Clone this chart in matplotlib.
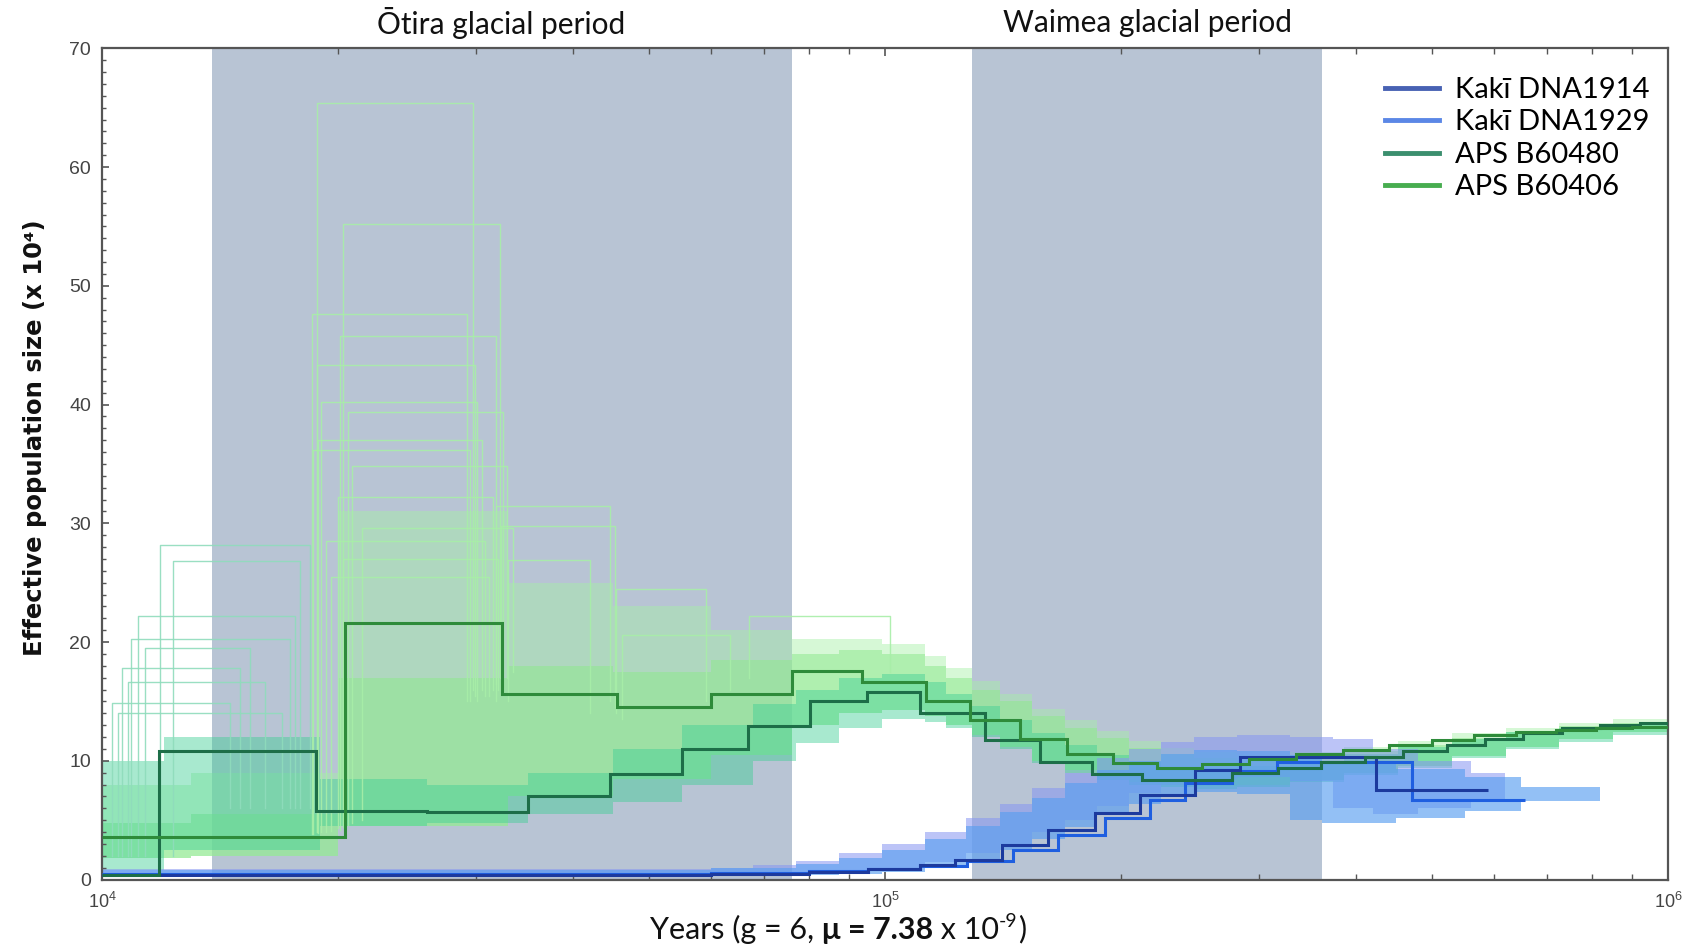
import math
import matplotlib
matplotlib.use("Agg")
import matplotlib.pyplot as plt
from matplotlib.lines import Line2D
from matplotlib.ticker import FixedLocator, LogLocator, NullFormatter, FuncFormatter
import matplotlib.transforms as mtransforms

# ---------------- data (years, Ne x 10^4) ----------------
# PSMC step curves: edges in years, values in units of 10^4
years_B60406 = [1e4, 20460, 32400, 45430, 59960, 76000, 93400, 112800, 128400, 148700,
                170600, 195700, 222300, 253800, 292000, 335000, 385000, 440000, 500000,
                565000, 640000, 720000, 810000, 900000, 1e6]
ne_B60406 = [3.6, 21.6, 15.6, 14.5, 15.6, 17.6, 16.6, 15.0, 13.4, 11.8,
             10.6, 9.8, 9.4, 9.75, 10.15, 10.55, 10.95, 11.35, 11.75,
             12.15, 12.45, 12.6, 12.75, 12.85]

years_B60480 = [1e4, 11825, 18760, 26000, 35040, 44550, 55100, 66900, 80100, 94750,
                110800, 134200, 157800, 183700, 212700, 277300, 318000, 361000, 410300,
                459200, 521700, 583800, 653600, 731500, 818800, 921100, 1e6]
ne_B60480 = [0.4, 10.86, 5.8, 5.65, 7.04, 8.87, 10.97, 12.96, 15.04, 15.8,
             14.06, 11.76, 9.93, 8.89, 8.39, 8.95, 9.37, 9.93, 10.35,
             10.86, 11.34, 11.84, 12.32, 12.74, 13.02, 13.16]

years_DNA1929 = [1e4, 60000, 80000, 95000, 110800, 127200, 145800, 166500, 191000,
                 217900, 241600, 277300, 316400, 470800, 656900]
ne_DNA1929 = [0.45, 0.55, 0.7, 0.9, 1.15, 1.6, 2.49, 3.76, 5.16, 6.70, 8.11, 9.1, 9.93, 6.70]

years_DNA1914 = [1e4, 60000, 80000, 95000, 110800, 122900, 140900, 161700, 185500,
                 211700, 248800, 284100, 423600, 589700]
ne_DNA1914 = [0.4, 0.5, 0.65, 0.85, 1.2, 1.65, 2.9, 4.2, 5.6, 7.1, 9.23, 10.35, 7.55]

# Bootstrap spread (step envelopes: lower edge, dense core top, outer top)
boot_edges_B60406 = [1e4, 13000, 20000, 33000, 45000, 60000, 76000, 87300, 99100, 112500,
                     119800, 129200, 140200, 154300, 169600, 186500, 205000, 225500, 247900,
                     281300, 329400, 386000, 452200, 529700, 620500, 726900, 851500, 1e6]
boot_lo_B60406 = [1.8, 2.0, 4.5, 7.0, 8.5, 10.5, 13.0, 14.0, 14.3, 13.8,
                  13.0, 12.2, 11.2, 10.0, 9.2, 8.6, 8.2, 8.0, 7.9, 8.0,
                  8.4, 9.0, 9.6, 10.4, 11.2, 11.8, 12.4]
boot_core_B60406 = [4.8, 5.5, 17.0, 18.0, 17.5, 18.5, 19.0, 19.3, 19.0, 18.0,
                    17.0, 16.0, 15.0, 13.8, 12.8, 11.9, 11.1, 10.6, 10.2, 10.1,
                    10.3, 10.8, 11.3, 11.9, 12.4, 12.9, 13.2]
boot_hi_B60406 = [8.0, 9.0, 31.0, 25.0, 23.0, 21.0, 20.3, 20.3, 19.8, 18.8,
                  17.8, 16.7, 15.6, 14.4, 13.4, 12.5, 11.7, 11.1, 10.7, 10.5,
                  10.7, 11.2, 11.7, 12.3, 12.8, 13.2, 13.5]

boot_edges_B60480 = [1e4, 12000, 19000, 26000, 35000, 45000, 55000, 67800, 76900, 87300,
                     99100, 112500, 119800, 129200, 140200, 154300, 169600, 186500, 205000,
                     225500, 247900, 281300, 329400, 386000, 452200, 529700, 620500, 726900,
                     851500, 1e6]
boot_lo_B60480 = [0.8, 2.5, 4.5, 4.8, 5.5, 6.5, 8.0, 10.0, 11.5, 12.8,
                  13.5, 13.3, 12.8, 12.0, 11.0, 9.8, 9.0, 8.4, 8.0, 7.8,
                  7.6, 7.8, 8.2, 8.8, 9.4, 10.2, 11.0, 11.6, 12.2]
boot_hi_B60480 = [10.0, 12.0, 8.5, 8.0, 9.0, 11.0, 13.0, 14.8, 16.0, 17.0,
                  17.3, 16.6, 15.6, 14.6, 13.4, 12.3, 11.3, 10.5, 9.9, 9.5,
                  9.4, 9.6, 10.0, 10.6, 11.2, 11.8, 12.4, 12.8, 13.1]

boot_edges_DNA1914 = [1e4, 60000, 67800, 76900, 87300, 99100, 112500, 127000, 140200, 154300,
                      169600, 186500, 205000, 225500, 247900, 281300, 329400, 373000, 420000,
                      480000, 560000, 620000]
boot_lo_DNA1914 = [0.25, 0.3, 0.4, 0.5, 0.7, 1.0, 1.5, 2.2, 3.0, 4.0,
                   5.0, 6.2, 7.3, 8.0, 8.5, 8.6, 8.3, 6.0, 5.5, 6.0, 6.5]
boot_hi_DNA1914 = [0.9, 1.0, 1.2, 1.6, 2.2, 3.0, 4.0, 5.2, 6.4, 7.7,
                   9.0, 10.2, 11.0, 11.6, 12.0, 12.2, 12.0, 11.8, 11.0, 10.0, 9.0]

boot_edges_DNA1929 = [1e4, 60000, 76900, 87300, 99100, 112500, 127000, 140200, 154300, 169600,
                      186500, 205000, 225500, 247900, 281300, 329400, 362000, 450000, 550000,
                      650000, 820000]
boot_lo_DNA1929 = [0.2, 0.3, 0.35, 0.45, 0.6, 1.0, 1.6, 2.5, 3.4, 4.4,
                   5.5, 6.4, 7.0, 7.4, 7.2, 5.0, 4.8, 5.2, 5.8, 6.6]
boot_hi_DNA1929 = [0.8, 1.0, 1.3, 1.8, 2.5, 3.4, 4.5, 5.7, 6.9, 8.1,
                   9.2, 10.0, 10.6, 10.9, 10.8, 10.5, 10.0, 9.3, 8.6, 7.8]

# Individual bootstrap replicates that leave the main spread
spike_start_B60406 = [18840, 20340, 18530, 20140, 18840, 19050, 20640, 18890, 18620, 20840,
                      20000, 21500, 19300, 20300, 19600, 31860, 32300, 33000, 45400, 46100, 67000]
spike_end_B60406 = [29800, 32240, 29280, 31860, 29950, 30100, 32550, 30540, 29510, 32880,
                    31600, 33500, 30800, 32000, 31200, 44550, 45180, 42000, 59000, 63400, 101500]
spike_height_B60406 = [65.4, 55.2, 47.6, 45.8, 43.3, 40.2, 39.4, 37.0, 36.2, 34.8,
                       32.2, 29.6, 28.5, 27.0, 25.5, 31.5, 29.8, 26.9, 24.5, 20.6, 22.2]
spike_base_left_B60406 = [4.0, 4.5, 3.8, 4.2, 4.0, 4.0, 4.6, 3.9, 3.8, 4.8,
                          4.3, 5.0, 4.0, 4.4, 4.1, 15.0, 16.0, 15.0, 14.0, 13.5, 17.0]
spike_base_right_B60406 = [16.0, 17.0, 15.0, 16.5, 15.5, 15.0, 17.5, 16.0, 15.0, 17.0,
                           16.0, 17.5, 15.5, 16.0, 15.5, 15.0, 14.5, 14.0, 15.0, 16.0, 17.5]

spike_start_B60480 = [11860, 12320, 11120, 10890, 11350, 10600, 10800, 10300, 10480]
spike_end_B60480 = [18440, 17900, 17640, 17380, 15450, 15010, 16150, 14570, 17000]
spike_height_B60480 = [28.2, 26.8, 22.2, 20.3, 19.5, 17.8, 16.6, 14.9, 14.0]

otira_period = (13800, 76000)
waimea_period = (129000, 362000)

series_names = ["Kakī DNA1914", "Kakī DNA1929", "APS B60480", "APS B60406"]
legend_colors = ["#4862b3", "#5b87e6", "#3b8f6e", "#47ad4f"]

# ---------------- styling ----------------
LATO = ["Lato", "DejaVu Sans"]
NARROW = ["Liberation Sans Narrow", "Liberation Sans", "DejaVu Sans"]

fig = plt.figure(figsize=(16.86, 9.48), dpi=100)
ax = fig.add_axes([0.0605, 0.0722, 0.9288, 0.8768])
ax.set_xscale("log")
ax.set_xlim(1e4, 1e6)
ax.set_ylim(0, 70)

band_color = "#b8c4d4"
for lo, hi in (otira_period, waimea_period):
    ax.axvspan(lo, hi, color=band_color, lw=0, zorder=0)

# bootstrap envelopes
ax.stairs(boot_hi_B60406, boot_edges_B60406, baseline=boot_lo_B60406, fill=True,
          color="#a6f0a6", alpha=0.45, lw=0, zorder=1.0)
ax.stairs(boot_core_B60406, boot_edges_B60406, baseline=boot_lo_B60406, fill=True,
          color="#8fe88f", alpha=0.55, lw=0, zorder=1.1)
ax.stairs(boot_hi_B60480, boot_edges_B60480, baseline=boot_lo_B60480, fill=True,
          color="#3fcf95", alpha=0.45, lw=0, zorder=1.2)
ax.stairs(boot_hi_DNA1914, boot_edges_DNA1914, baseline=boot_lo_DNA1914, fill=True,
          color="#8595f2", alpha=0.55, lw=0, zorder=1.3)
ax.stairs(boot_hi_DNA1929, boot_edges_DNA1929, baseline=boot_lo_DNA1929, fill=True,
          color="#5a9ff0", alpha=0.65, lw=0, zorder=1.4)

# outlying bootstrap replicates
for x0, x1, h, bl, br in zip(spike_start_B60406, spike_end_B60406, spike_height_B60406,
                             spike_base_left_B60406, spike_base_right_B60406):
    ax.plot([x0, x0, x1, x1], [bl, h, h, br], color="#a8eea8", lw=1.0, alpha=0.9, zorder=1.5)
for x0, x1, h in zip(spike_start_B60480, spike_end_B60480, spike_height_B60480):
    ax.plot([x0, x0, x1, x1], [2.0, h, h, 6.0], color="#8fdcbc", lw=1.0, alpha=0.9, zorder=1.5)

# main PSMC curves
ax.stairs(ne_DNA1929, years_DNA1929, baseline=None, color="#1f5fe0", lw=2.2, zorder=3)
ax.stairs(ne_DNA1914, years_DNA1914, baseline=None, color="#1c3a9e", lw=2.2, zorder=3.1)
ax.stairs(ne_B60480, years_B60480, baseline=None, color="#1d6e48", lw=2.2, zorder=3.2)
ax.stairs(ne_B60406, years_B60406, baseline=None, color="#2e8b3a", lw=2.2, zorder=3.3)

# axes
for s in ax.spines.values():
    s.set_color("#555555")
    s.set_linewidth(1.6)
ax.yaxis.set_major_locator(FixedLocator(range(0, 71, 10)))
ax.yaxis.set_minor_locator(FixedLocator(range(0, 71, 1)))
ax.xaxis.set_major_locator(LogLocator(base=10, numticks=5))
ax.xaxis.set_minor_locator(LogLocator(base=10, subs=range(2, 10), numticks=20))
ax.xaxis.set_minor_formatter(NullFormatter())
ax.xaxis.set_major_formatter(FuncFormatter(lambda v, p: r"$\mathregular{10^{%d}}$" % round(math.log10(v))))
ax.tick_params(axis="y", which="major", direction="in", length=5, width=1.2, color="#555555",
               labelsize=14, labelcolor="#444444", pad=8, right=False)
ax.tick_params(axis="y", which="minor", direction="in", length=3, width=1.0, color="#555555", right=False)
ax.tick_params(axis="x", which="both", direction="in", top=True, bottom=True, color="#555555",
               labelsize=13, labelcolor="#444444", pad=9)
ax.tick_params(axis="x", which="major", length=6, width=1.2)
ax.tick_params(axis="x", which="minor", length=4, width=1.0)
for lab in ax.get_yticklabels() + ax.get_xticklabels():
    lab.set_family(NARROW)

# period labels
trans = mtransforms.blended_transform_factory(ax.transData, ax.transAxes)
for (lo, hi), name in ((otira_period, "Ōtira glacial period"), (waimea_period, "Waimea glacial period")):
    ax.text((lo * hi) ** 0.5, 1.031, name, transform=trans, ha="center", va="center",
            fontsize=21.5, family=LATO, color="#111111")

# y label
fig.text(0.021, 0.538, "Effective population size (x 10⁴)", rotation=90, ha="center",
         va="center", fontsize=17.5, fontweight="bold", family=["DejaVu Sans"], color="#111111")

# x label built from pieces (regular / bold / superscript)
pieces = [("Years (g = 6, ", "normal", 22, 0.0),
          ("μ = 7.38", "bold", 22, 0.0),
          ("\u00a0x 10", "normal", 22, 0.0),
          ("-9", "normal", 14, 0.012),
          (")", "normal", 22, 0.0)]
base_y = 0.010
texts = []
for s, w, size, dy in pieces:
    texts.append(fig.text(0, base_y + dy, s, fontsize=size, fontweight=w, family=LATO,
                          va="baseline", ha="left", color="#111111"))
renderer = fig.canvas.get_renderer()
widths = [t.get_window_extent(renderer).width for t in texts]
fig_w = fig.get_figwidth() * fig.dpi
x = 838 - sum(widths) / 2
for t, w in zip(texts, widths):
    t.set_x(x / fig_w)
    x += w

# legend
handles = [Line2D([], [], color=c, lw=3.5) for c in legend_colors]
ax.legend(handles, series_names, loc="upper right", bbox_to_anchor=(0.9885, 0.9655),
          frameon=False, prop={"family": LATO, "size": 21}, handlelength=1.85,
          handletextpad=0.55, labelspacing=0.22, borderaxespad=0.0, borderpad=0.0)

fig.savefig("out.png", dpi=100)
